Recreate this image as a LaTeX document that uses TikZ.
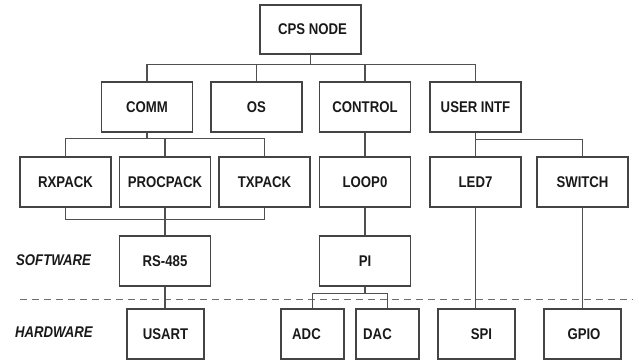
\documentclass[tikz,border=0pt]{standalone}
\usepackage{fontspec}
\setmainfont{Liberation Sans}[FakeStretch=0.85]
\definecolor{edge}{RGB}{68,68,68}
\definecolor{wire}{RGB}{80,80,80}
\definecolor{divider}{RGB}{110,110,110}
% shift a label horizontally inside its box without changing the box
\newcommand\nudge[2]{\kern#1\relax#2\kern-#1\relax}
\begin{document}
\begin{tikzpicture}[x=1pt,y=-1pt,
  box/.style={draw=edge, line width=1.2pt, rectangle, minimum height=50pt,
    inner sep=0pt, font=\fontsize{15.5}{16}\selectfont\bfseries, text=black!90},
  wide/.style={box, minimum width=91pt},
  narrow/.style={box, minimum width=77pt},
  tiny/.style={box, minimum width=63pt},
  link/.style={draw=wire, line width=1.2pt},
  layer/.style={font=\fontsize{15.5}{16}\selectfont\bfseries\itshape, text=black!90, inner sep=0pt},
]
\useasboundingbox (0,0) rectangle (639,363);

% top level
\node[box, minimum width=101pt, minimum height=49pt] (cps) at (310.5,29.5) {\nudge{2pt}{CPS NODE}};

% subsystems
\node[wide] (comm)    at (147,107)   {COMM};
\node[wide] (os)      at (256.5,107) {OS};
\node[wide] (control) at (365,107)   {CONTROL};
\node[wide] (uif)     at (475.5,107) {USER INTF};

% software modules
\node[wide] (rxpack)   at (65.5,182)  {RXPACK};
\node[wide] (procpack) at (165,182)   {PROCPACK};
\node[wide] (txpack)   at (264.5,182) {TXPACK};
\node[wide] (loop)     at (365,182)   {LOOP0};
\node[wide] (led)      at (475.5,182) {LED7};
\node[wide] (switch)   at (582.5,182) {SWITCH};

% drivers
\node[wide] (rs) at (165,261) {RS-485};
\node[wide] (pi) at (365,261) {PI};

% hardware peripherals
\node[narrow] (usart) at (165.5,334) {USART};
\node[tiny]   (adc)   at (312.5,334) {\nudge{-6pt}{ADC}};
\node[tiny]   (dac)   at (387.5,334) {\nudge{-10pt}{DAC}};
\node[narrow] (spi)   at (476.5,334) {\nudge{5pt}{SPI}};
\node[narrow] (gpio)  at (582.5,334) {\nudge{1.5pt}{GPIO}};

% layer labels and divider
\node[layer, anchor=west] (sw) at (16,260) {SOFTWARE};
\node[layer, anchor=west] (hw) at (15,332) {HARDWARE};
\coordinate (divl) at (20,299);
\coordinate (divr) at (633,299);
\draw[draw=divider, line width=1pt, dash pattern=on 7pt off 5pt] (divl) -- (divr);

% tree connectors
\foreach \c in {comm,os,control,uif}
  \draw[link] (\c.north) -- ++(0,-17) -| (cps.south);
\foreach \c in {rxpack,procpack,txpack}
  \draw[link] (\c.north) -- ++(0,-18) -| (comm.south);
\foreach \c in {rxpack,txpack}
  \draw[link] (\c.south) -- ++(0,12) -| (rs.north);
\draw[link] (procpack.south) -- (rs.north);
\draw[link] (control.south) -- (loop.north);
\draw[link] (loop.south) -- (pi.north);
\foreach \c in {led,switch}
  \draw[link] (\c.north) -- ++(0,-17) -| (uif.south);
\draw[link] (rs.south) -- (rs.south |- usart.north);
\foreach \c in {adc,dac}
  \draw[link] (\c.north) -- ++(0,-15) -| (pi.south);
\draw[link] (led.south) -- (led.south |- spi.north);
\draw[link] (switch.south) -- (gpio.north);
\end{tikzpicture}
\end{document}
